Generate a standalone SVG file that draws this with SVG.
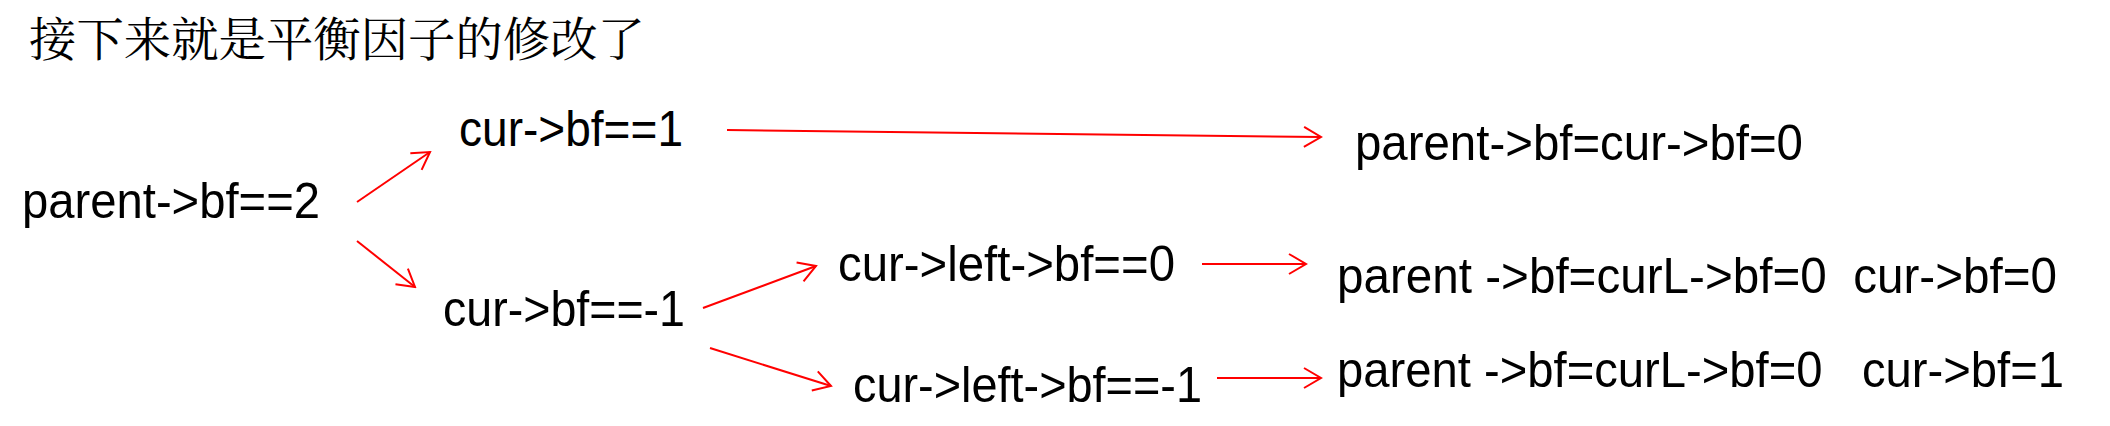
<svg xmlns="http://www.w3.org/2000/svg" width="2110" height="426" viewBox="0 0 2110 426">
<style>
.t{font-family:"Liberation Sans",Arial,sans-serif;font-size:50px;fill:#000;white-space:pre}
.title{font-family:"Noto Serif CJK SC","Noto Sans CJK SC",serif;font-size:47px;fill:#000}
.c{stroke:#ff0000;stroke-width:2;fill:none}
</style>
<defs>
<marker id="ah" markerUnits="userSpaceOnUse" viewBox="-20 -12 22 24" refX="0" refY="0" markerWidth="22" markerHeight="24" orient="auto">
<path d="M-17,-10 L0,0 L-17,10" fill="none" stroke="#ff0000" stroke-width="2"/>
</marker>
</defs>
<rect width="2110" height="426" fill="#fff"/>
<g id="title"><text class="title" x="29" y="56" textLength="616" lengthAdjust="spacingAndGlyphs">接下来就是平衡因子的修改了</text></g>
<g id="n-parent"><text class="t" x="22" y="218" textLength="298" lengthAdjust="spacingAndGlyphs">parent-&gt;bf==2</text></g>
<g id="n-cur1"><text class="t" x="459" y="146" textLength="224" lengthAdjust="spacingAndGlyphs">cur-&gt;bf==1</text></g>
<g id="n-curm1"><text class="t" x="443" y="326" textLength="242" lengthAdjust="spacingAndGlyphs">cur-&gt;bf==-1</text></g>
<g id="n-left0"><text class="t" x="838" y="281" textLength="337" lengthAdjust="spacingAndGlyphs">cur-&gt;left-&gt;bf==0</text></g>
<g id="n-leftm1"><text class="t" x="853" y="402" textLength="349" lengthAdjust="spacingAndGlyphs">cur-&gt;left-&gt;bf==-1</text></g>
<g id="n-res1"><text class="t" x="1355" y="160" textLength="448" lengthAdjust="spacingAndGlyphs">parent-&gt;bf=cur-&gt;bf=0</text></g>
<g id="n-res2"><text class="t" x="1337" y="293" textLength="720" lengthAdjust="spacingAndGlyphs">parent -&gt;bf=curL-&gt;bf=0  cur-&gt;bf=0</text></g>
<g id="n-res3"><text class="t" x="1337" y="387" textLength="727" lengthAdjust="spacingAndGlyphs">parent -&gt;bf=curL-&gt;bf=0   cur-&gt;bf=1</text></g>
<g id="connectors">
<line class="c" x1="357" y1="202" x2="430" y2="152" marker-end="url(#ah)"/>
<line class="c" x1="357" y1="241" x2="415" y2="287" marker-end="url(#ah)"/>
<line class="c" x1="727" y1="130" x2="1321" y2="137" marker-end="url(#ah)"/>
<line class="c" x1="703" y1="308" x2="816" y2="266" marker-end="url(#ah)"/>
<line class="c" x1="710" y1="348" x2="831" y2="386" marker-end="url(#ah)"/>
<line class="c" x1="1202" y1="264" x2="1306" y2="264" marker-end="url(#ah)"/>
<line class="c" x1="1217" y1="378" x2="1321" y2="378" marker-end="url(#ah)"/>
</g>
</svg>
